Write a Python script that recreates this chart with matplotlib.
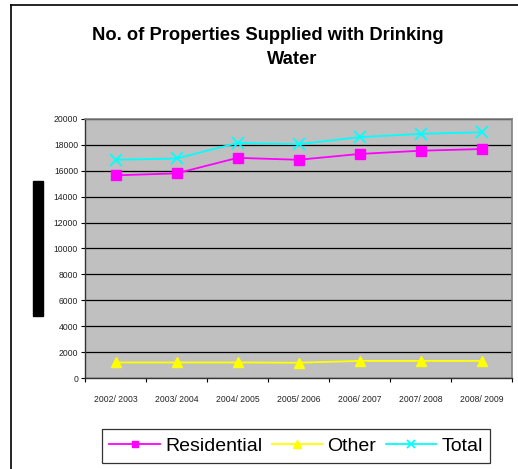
import matplotlib
matplotlib.use('Agg')
import matplotlib.pyplot as plt
import matplotlib.patches as mpl_patches
from matplotlib.lines import Line2D
import numpy as np

plt.rcParams['font.family'] = ['Liberation Sans', 'DejaVu Sans']

years = ['2002/ 2003', '2003/ 2004', '2004/ 2005', '2005/ 2006',
         '2006/ 2007', '2007/ 2008', '2008/ 2009']
residential = [15650, 15800, 17000, 16850, 17300, 17550, 17680]
other = [1200, 1200, 1200, 1180, 1320, 1320, 1320]
total = [16850, 16950, 18150, 18050, 18600, 18850, 18980]
y_ticks = list(range(0, 20001, 2000))

W, H = 518, 469
fig = plt.figure(figsize=(W / 100, H / 100), dpi=100)
ax = fig.add_axes([85 / W, 1 - 378 / H, (512 - 85) / W, (378 - 119) / H])

x = np.arange(len(years))
ax.set_facecolor('#C0C0C0')
ax.plot(x, residential, color='#FF00FF', marker='s', markersize=6.5, linewidth=1.3,
        label='Residential')
ax.plot(x, other, color='#FFFF00', marker='^', markersize=7.5, linewidth=1.3,
        label='Other')
ax.plot(x, total, color='#00FFFF', marker='x', markersize=8, markeredgewidth=1.3,
        linewidth=1.3, label='Total')

ax.set_xlim(-0.5, len(years) - 0.5)
ax.set_ylim(0, 20000)
ax.set_yticks(y_ticks)
ax.set_yticklabels([str(v) for v in y_ticks], fontsize=6.2, color='#222222')
ax.yaxis.grid(True, color='black', linewidth=0.9)
ax.set_axisbelow(True)

# category labels between boundary ticks, like the spreadsheet chart
ax.set_xticks(np.arange(len(years) + 1) - 0.5)
ax.set_xticklabels([])
ax.set_xticks(x, minor=True)
ax.set_xticklabels(years, minor=True, fontsize=6.2, color='#222222')
ax.tick_params(axis='x', which='minor', length=0, pad=12)
ax.tick_params(axis='x', which='major', length=3, width=0.8, direction='out')
ax.tick_params(axis='y', length=3, width=0.8, direction='out', pad=2)

for side in ['top', 'right']:
    ax.spines[side].set_color('#808080')
    ax.spines[side].set_linewidth(1.2)
for side in ['left', 'bottom']:
    ax.spines[side].set_color('#333333')
    ax.spines[side].set_linewidth(1.0)

fig.text(268 / W, 1 - 35 / H, 'No. of Properties Supplied with Drinking',
         ha='center', va='center', fontsize=13.2, fontweight='bold')
fig.text(292 / W, 1 - 60 / H, 'Water',
         ha='center', va='center', fontsize=13.2, fontweight='bold')

# redacted axis title block
fig.patches.append(mpl_patches.Rectangle((33 / W, 1 - 316 / H), 10 / W, 135 / H,
                                         transform=fig.transFigure, color='black'))

# outer chart border
fig.lines.append(Line2D([11 / W, 11 / W], [0, 1 - 5 / H], transform=fig.transFigure,
                        color='black', linewidth=1.2))
fig.lines.append(Line2D([11 / W, 1], [1 - 5 / H, 1 - 5 / H], transform=fig.transFigure,
                        color='black', linewidth=1.2))

leg = fig.legend(loc='center', bbox_to_anchor=(296 / W, 1 - 446 / H), ncol=3,
                 fontsize=14, frameon=True, fancybox=False, edgecolor='black',
                 handlelength=2.6, columnspacing=0.5, handletextpad=0.25,
                 borderpad=0.4, markerscale=0.75)
leg.get_frame().set_linewidth(0.9)

fig.savefig('out.png', dpi=100, facecolor='white')
